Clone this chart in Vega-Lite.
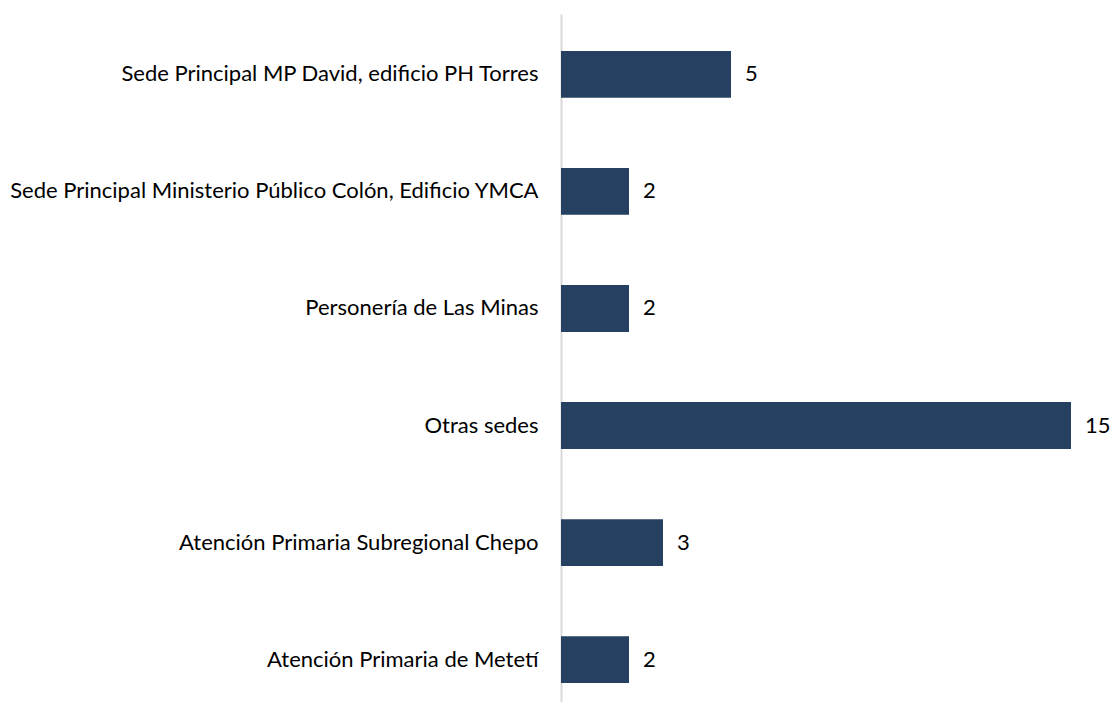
{
  "$schema": "https://vega.github.io/schema/vega-lite/v6.json",
  "autosize": {"type": "none"},
  "padding": {"left": 561, "top": 14, "right": 7, "bottom": 0},
  "width": 544,
  "height": 706,
  "background": "white",
  "config": {"view": {"stroke": null}, "font": "Lato"},
  "data": {"values": [
    {"sede": "Sede Principal MP David, edificio PH Torres", "valor": 5},
    {"sede": "Sede Principal Ministerio Público Colón, Edificio YMCA", "valor": 2},
    {"sede": "Personería de Las Minas", "valor": 2},
    {"sede": "Otras sedes\u00a0", "valor": 15},
    {"sede": "Atención Primaria Subregional Chepo", "valor": 3},
    {"sede": "Atención Primaria de Metetí", "valor": 2}
  ]},
  "encoding": {
    "y": {"field": "sede", "type": "nominal", "sort": null,
      "scale": {"paddingInner": 0.6, "paddingOuter": 0.316},
      "axis": {"title": null, "ticks": false, "domainColor": "#d9d9d9", "domainWidth": 2,
        "labelFont": "Lato", "labelFontSize": 22, "labelColor": "#000000", "labelPadding": 23, "labelLimit": 800}},
    "x": {"field": "valor", "type": "quantitative", "scale": {"domain": [0, 16], "nice": false}, "axis": null}
  },
  "layer": [
    {"mark": {"type": "bar", "color": "#264061"}},
    {"mark": {"type": "text", "align": "left", "dx": 14, "font": "Lato", "fontSize": 22, "color": "#000000"},
     "encoding": {"text": {"field": "valor", "type": "quantitative"}}}
  ]
}
